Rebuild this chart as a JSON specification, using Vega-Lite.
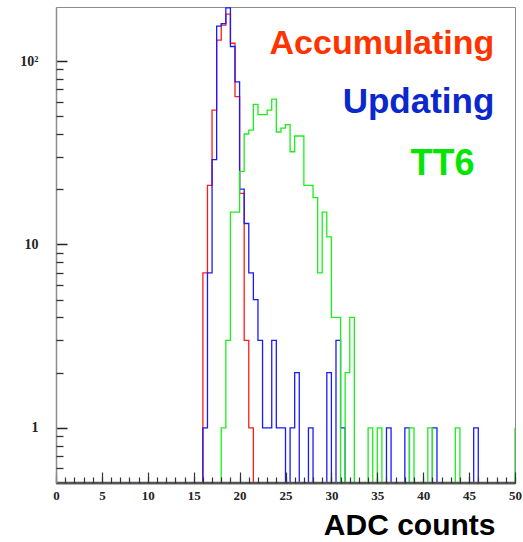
{
  "$schema": "https://vega.github.io/schema/vega-lite/v6.json",
  "width": 459,
  "height": 476,
  "autosize": {"type": "none"},
  "padding": {"left": 56, "top": 7, "right": 8, "bottom": 59},
  "background": "white",
  "config": {"view": {"stroke": "#8c8c8c", "strokeWidth": 1}},
  "data": {
    "values": [
      {"s": "Accumulating", "x": 15.5, "n": 0},
      {"s": "Accumulating", "x": 16, "n": 7},
      {"s": "Accumulating", "x": 16.5, "n": 21},
      {"s": "Accumulating", "x": 17, "n": 54},
      {"s": "Accumulating", "x": 17.5, "n": 130},
      {"s": "Accumulating", "x": 18, "n": 157},
      {"s": "Accumulating", "x": 18.5, "n": 180},
      {"s": "Accumulating", "x": 19, "n": 125},
      {"s": "Accumulating", "x": 19.5, "n": 64},
      {"s": "Accumulating", "x": 20, "n": 19},
      {"s": "Accumulating", "x": 20.5, "n": 3},
      {"s": "Accumulating", "x": 21, "n": 1},
      {"s": "Accumulating", "x": 21.5, "n": 0},

      {"s": "Updating", "x": 15.5, "n": 0},
      {"s": "Updating", "x": 16, "n": 1},
      {"s": "Updating", "x": 16.5, "n": 7},
      {"s": "Updating", "x": 17, "n": 29},
      {"s": "Updating", "x": 17.5, "n": 155},
      {"s": "Updating", "x": 18, "n": 160},
      {"s": "Updating", "x": 18.5, "n": 195},
      {"s": "Updating", "x": 19, "n": 120},
      {"s": "Updating", "x": 19.5, "n": 77},
      {"s": "Updating", "x": 20, "n": 20},
      {"s": "Updating", "x": 20.5, "n": 13},
      {"s": "Updating", "x": 21, "n": 7},
      {"s": "Updating", "x": 21.5, "n": 5},
      {"s": "Updating", "x": 22, "n": 3},
      {"s": "Updating", "x": 22.5, "n": 1},
      {"s": "Updating", "x": 23, "n": 1},
      {"s": "Updating", "x": 23.5, "n": 3},
      {"s": "Updating", "x": 24, "n": 1},
      {"s": "Updating", "x": 24.5, "n": 1},
      {"s": "Updating", "x": 25, "n": 0},
      {"s": "Updating", "x": 25.5, "n": 1},
      {"s": "Updating", "x": 26, "n": 2},
      {"s": "Updating", "x": 26.5, "n": 0},
      {"s": "Updating", "x": 27, "n": 0},
      {"s": "Updating", "x": 27.5, "n": 1},
      {"s": "Updating", "x": 28, "n": 0},
      {"s": "Updating", "x": 29.5, "n": 2},
      {"s": "Updating", "x": 30, "n": 0},
      {"s": "Updating", "x": 30.5, "n": 3},
      {"s": "Updating", "x": 31, "n": 1},
      {"s": "Updating", "x": 31.5, "n": 0},
      {"s": "Updating", "x": 36, "n": 1},
      {"s": "Updating", "x": 36.5, "n": 0},
      {"s": "Updating", "x": 38, "n": 1},
      {"s": "Updating", "x": 38.5, "n": 0},
      {"s": "Updating", "x": 41, "n": 1},
      {"s": "Updating", "x": 41.5, "n": 0},
      {"s": "Updating", "x": 45.5, "n": 1},
      {"s": "Updating", "x": 46, "n": 0},

      {"s": "TT6", "x": -0.5, "n": 1},
      {"s": "TT6", "x": 0, "n": 0},
      {"s": "TT6", "x": 18, "n": 1},
      {"s": "TT6", "x": 18.5, "n": 3},
      {"s": "TT6", "x": 19, "n": 15},
      {"s": "TT6", "x": 19.5, "n": 15},
      {"s": "TT6", "x": 20, "n": 25},
      {"s": "TT6", "x": 20.5, "n": 40},
      {"s": "TT6", "x": 21, "n": 42},
      {"s": "TT6", "x": 21.5, "n": 58},
      {"s": "TT6", "x": 22, "n": 51},
      {"s": "TT6", "x": 22.5, "n": 51},
      {"s": "TT6", "x": 23, "n": 54},
      {"s": "TT6", "x": 23.5, "n": 62},
      {"s": "TT6", "x": 24, "n": 41},
      {"s": "TT6", "x": 24.5, "n": 43},
      {"s": "TT6", "x": 25, "n": 45},
      {"s": "TT6", "x": 25.5, "n": 32},
      {"s": "TT6", "x": 26, "n": 39},
      {"s": "TT6", "x": 26.5, "n": 39},
      {"s": "TT6", "x": 27, "n": 21},
      {"s": "TT6", "x": 27.5, "n": 21},
      {"s": "TT6", "x": 28, "n": 18},
      {"s": "TT6", "x": 28.5, "n": 7},
      {"s": "TT6", "x": 29, "n": 15},
      {"s": "TT6", "x": 29.5, "n": 11},
      {"s": "TT6", "x": 30, "n": 4},
      {"s": "TT6", "x": 30.5, "n": 4},
      {"s": "TT6", "x": 31, "n": 0},
      {"s": "TT6", "x": 31.5, "n": 2},
      {"s": "TT6", "x": 32, "n": 4},
      {"s": "TT6", "x": 32.5, "n": 0},
      {"s": "TT6", "x": 34, "n": 1},
      {"s": "TT6", "x": 34.5, "n": 0},
      {"s": "TT6", "x": 35, "n": 1},
      {"s": "TT6", "x": 35.5, "n": 0},
      {"s": "TT6", "x": 38.5, "n": 1},
      {"s": "TT6", "x": 39, "n": 0},
      {"s": "TT6", "x": 40.5, "n": 1},
      {"s": "TT6", "x": 41, "n": 0},
      {"s": "TT6", "x": 43.5, "n": 1},
      {"s": "TT6", "x": 44, "n": 0},
      {"s": "TT6", "x": 50, "n": 1}
    ]
  },
  "layer": [
    {
      "transform": [{"filter": "datum.s === 'Accumulating'"}],
      "mark": {"type": "line", "interpolate": "step-after", "color": "#ff1a1a", "strokeWidth": 1.3, "clip": true},
      "encoding": {
        "x": {
          "field": "x", "type": "quantitative",
          "scale": {"domain": [0, 50], "nice": false, "zero": false},
          "axis": {
            "orient": "bottom", "zindex": 1, "grid": false,
            "values": [0, 5, 10, 15, 20, 25, 30, 35, 40, 45, 50],
            "tickSize": -11, "tickColor": "#333", "tickWidth": 1.2,
            "domainColor": "#555", "domainWidth": 1.5,
            "labelFont": "Liberation Serif", "labelFontWeight": "bold", "labelFontSize": 13,
            "labelColor": "#222", "labelPadding": 17, "labelFlush": false, "labelOverlap": false,
            "title": "ADC counts", "titleFont": "Liberation Sans", "titleFontWeight": "bold",
            "titleFontSize": 30, "titleColor": "#000", "titleAlign": "right", "titleAnchor": "end",
            "titleX": 439, "titleY": 51, "titleBaseline": "alphabetic"
          }
        },
        "y": {
          "field": "n", "type": "quantitative",
          "scale": {"type": "log", "domain": [0.5, 197], "nice": false, "clamp": true},
          "axis": {
            "orient": "left", "zindex": 1, "grid": false,
            "values": [1, 10, 100],
            "tickSize": -11, "tickColor": "#222", "tickWidth": 1.5,
            "domainColor": "#8c8c8c", "domainWidth": 1.5,
            "labelFont": "Liberation Serif", "labelFontWeight": "bold", "labelFontSize": 14,
            "labelColor": "#222", "labelPadding": 29,
            "labelExpr": "datum.value == 100 ? '10²' : datum.value == 10 ? '10' : '1'",
            "title": null
          }
        }
      }
    },
    {
      "transform": [{"filter": "datum.s === 'Updating'"}],
      "mark": {"type": "line", "interpolate": "step-after", "color": "#1a1aff", "strokeWidth": 1.3, "clip": true},
      "encoding": {
        "x": {
          "field": "x", "type": "quantitative",
          "scale": {"domain": [0, 50], "nice": false, "zero": false},
          "axis": {
            "orient": "bottom", "zindex": 1, "grid": false, "labels": false, "domain": false,
            "values": [0,1,2,3,4,5,6,7,8,9,10,11,12,13,14,15,16,17,18,19,20,21,22,23,24,25,26,27,28,29,30,31,32,33,34,35,36,37,38,39,40,41,42,43,44,45,46,47,48,49,50],
            "tickSize": -6, "tickColor": "#333", "tickWidth": 1.2, "title": null
          }
        },
        "y": {
          "field": "n", "type": "quantitative",
          "scale": {"type": "log", "domain": [0.5, 197], "nice": false, "clamp": true},
          "axis": {
            "orient": "left", "zindex": 1, "grid": false, "labels": false, "domain": false,
            "values": [0.6, 0.7, 0.8, 0.9, 2, 3, 4, 5, 6, 7, 8, 9, 20, 30, 40, 50, 60, 70, 80, 90],
            "tickSize": -7, "tickColor": "#333", "tickWidth": 1.3, "title": null
          }
        }
      }
    },
    {
      "transform": [{"filter": "datum.s === 'TT6'"}],
      "mark": {"type": "line", "interpolate": "step-after", "color": "#1aef1a", "strokeWidth": 1.3, "clip": true},
      "encoding": {
        "x": {"field": "x", "type": "quantitative", "axis": null},
        "y": {"field": "n", "type": "quantitative", "axis": null}
      }
    },
    {
      "data": {"values": [{}]},
      "mark": {"type": "rule", "color": "#555555", "strokeWidth": 2.4},
      "encoding": {
        "y": {"datum": 0.5, "type": "quantitative", "axis": null}
      }
    },
    {
      "data": {"values": [{}]},
      "mark": {"type": "text", "text": "Accumulating", "font": "Liberation Sans", "fontWeight": "bold", "fontSize": 34, "align": "right", "baseline": "alphabetic", "color": "#ff3300"},
      "encoding": {
        "x": {"datum": 47.75, "type": "quantitative", "axis": null},
        "y": {"datum": 109, "type": "quantitative", "axis": null}
      }
    },
    {
      "data": {"values": [{}]},
      "mark": {"type": "text", "text": "Updating", "font": "Liberation Sans", "fontWeight": "bold", "fontSize": 35, "align": "right", "baseline": "alphabetic", "color": "#0a28cc"},
      "encoding": {
        "x": {"datum": 47.75, "type": "quantitative", "axis": null},
        "y": {"datum": 52, "type": "quantitative", "axis": null}
      }
    },
    {
      "data": {"values": [{}]},
      "mark": {"type": "text", "text": "TT6", "font": "Liberation Sans", "fontWeight": "bold", "fontSize": 36, "align": "center", "baseline": "alphabetic", "color": "#00e600"},
      "encoding": {
        "x": {"datum": 42.1, "type": "quantitative", "axis": null},
        "y": {"datum": 24, "type": "quantitative", "axis": null}
      }
    }
  ],
  "resolve": {"axis": {"x": "independent", "y": "independent"}}
}
